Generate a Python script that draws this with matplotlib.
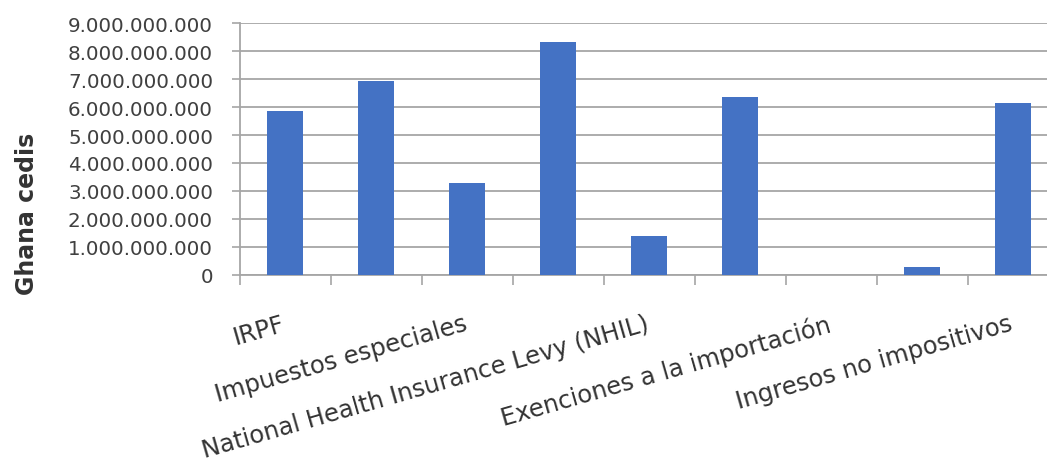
import matplotlib
matplotlib.use('Agg')
import matplotlib.pyplot as plt
import matplotlib.transforms as mtransforms
import numpy as np
from matplotlib.ticker import FuncFormatter, FixedLocator

# revenue by source, Ghana cedis
tick_labels = ["IRPF", "", "Impuestos especiales", "",
               "National Health Insurance Levy (NHIL)", "",
               "Exenciones a la importación", "",
               "Ingresos no impositivos"]
valores = [5.86e9, 6.92e9, 3.29e9, 8.32e9, 1.40e9, 6.35e9, 0.0, 0.29e9, 6.15e9]
yticks = np.arange(0, 10e9, 1e9)

plt.rcParams['font.family'] = ['DejaVu Sans']

def miles(v, pos):
    """ thousands separated by dots """
    return "{:,.0f}".format(v).replace(",", ".")

fig = plt.figure(figsize=(10.47, 4.64), dpi=100)
ax = fig.add_axes([239.5/1047, 188.3/464, 819.0/1047, 251.4/464])

x = np.arange(len(valores))
ax.bar(x, valores, width=0.4, color='#4472C4', zorder=3)

ax.set_xlim(-0.5, len(valores) - 0.5)
ax.set_ylim(0, 9e9)
ax.set_yticks(yticks)
ax.yaxis.set_major_formatter(FuncFormatter(miles))
ax.yaxis.grid(True, color='#A6A6A6', linewidth=1.3, zorder=0)

# category boundaries get the tick marks, labels sit at the centres
ax.xaxis.set_major_locator(FixedLocator(np.arange(-0.5, len(valores), 1.0)))
ax.xaxis.set_minor_locator(FixedLocator(x))
ax.set_xticklabels([], minor=False)
ax.set_xticklabels(tick_labels, minor=True, rotation=16, ha='right',
                   rotation_mode='anchor', fontsize=17.5, color='#333333')
ax.tick_params(axis='x', which='major', length=7.5, width=1.2, color='#A6A6A6')
ax.tick_params(axis='x', which='minor', length=0, pad=26)
ax.tick_params(axis='y', length=6, width=1.2, color='#A6A6A6',
               labelsize=14.3, labelcolor='#404040', pad=13)

shift = mtransforms.ScaledTranslation(-4/100, 0, fig.dpi_scale_trans)
for lab in ax.xaxis.get_minorticklabels():
    lab.set_transform(lab.get_transform() + shift)

for s in ['top', 'right']:
    ax.spines[s].set_visible(False)
for s in ['left', 'bottom']:
    ax.spines[s].set_color('#A6A6A6')
    ax.spines[s].set_linewidth(1.3)

fig.text(27/1047, 1 - 214/464, "Ghana cedis", rotation=90, ha='center',
         va='center', fontsize=17, fontweight='bold', color='#333333')

fig.savefig('out.png', dpi=100)
plt.close()
